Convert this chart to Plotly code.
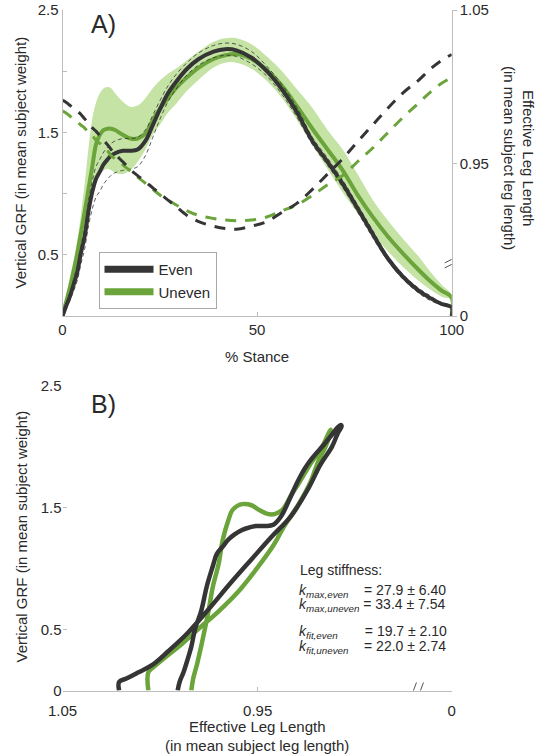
import plotly.graph_objects as go

# ---------------- data ----------------
stance = [0, 0.8, 1.8, 2.8, 3.8, 4.7, 5.7, 6.7, 7.7, 8.6, 9.6, 10.6, 11.6, 12.5, 13.5,
          15.5, 17.4, 19.3, 21.3, 23.2, 25.2, 27.1, 29.1, 32.0, 35.0, 38.8, 41.8, 44.7,
          48.6, 52.5, 56.4, 60.3, 64.2, 68.1, 72.0, 75.8, 79.7, 83.6, 87.5, 91.4, 94.3,
          97.3, 100, 100]

grf_even = [0, 0.07, 0.15, 0.25, 0.36, 0.51, 0.65, 0.86, 1.02, 1.12, 1.18, 1.24, 1.28, 1.31,
            1.33, 1.35, 1.35, 1.36, 1.43, 1.56, 1.70, 1.82, 1.91, 2.02, 2.10, 2.16, 2.18, 2.17,
            2.11, 2.00, 1.85, 1.66, 1.43, 1.26, 1.08, 0.88, 0.67, 0.47, 0.32, 0.21, 0.15,
            0.10, 0.07, 0]

grf_uneven = [0, 0.10, 0.22, 0.36, 0.51, 0.67, 0.85, 1.04, 1.23, 1.40, 1.48, 1.52, 1.53, 1.53,
              1.52, 1.48, 1.45, 1.45, 1.49, 1.60, 1.70, 1.78, 1.86, 1.95, 2.03, 2.10, 2.13, 2.14,
              2.10, 2.01, 1.88, 1.71, 1.53, 1.36, 1.19, 0.99, 0.81, 0.65, 0.51, 0.38, 0.29,
              0.21, 0.15, 0]

grf_uneven_hi = [0, 0.15, 0.30, 0.45, 0.62, 0.82, 1.08, 1.38, 1.62, 1.74, 1.82, 1.86, 1.87, 1.86,
                 1.82, 1.75, 1.71, 1.72, 1.78, 1.86, 1.93, 1.98, 2.02, 2.09, 2.16, 2.24, 2.27, 2.27,
                 2.22, 2.12, 2.00, 1.85, 1.70, 1.52, 1.36, 1.16, 0.95, 0.78, 0.63, 0.49, 0.37,
                 0.26, 0.17, 0]

grf_uneven_lo = [0, 0.05, 0.12, 0.22, 0.35, 0.50, 0.66, 0.82, 0.97, 1.08, 1.15, 1.19, 1.20, 1.19,
                 1.17, 1.16, 1.19, 1.26, 1.36, 1.48, 1.57, 1.66, 1.73, 1.84, 1.93, 2.03, 2.07, 2.07,
                 2.02, 1.92, 1.78, 1.60, 1.40, 1.20, 1.01, 0.84, 0.67, 0.53, 0.40, 0.29, 0.22,
                 0.16, 0.13, 0]

even_sd_up = [0, 0.02, 0.03, 0.04, 0.05, 0.06, 0.07, 0.08, 0.09, 0.10, 0.10, 0.10, 0.10, 0.10,
              0.10, 0.10, 0.10, 0.10, 0.09, 0.08, 0.07, 0.06, 0.06, 0.05, 0.05, 0.05, 0.05, 0.05,
              0.05, 0.04, 0.04, 0.04, 0.03, 0.03, 0.03, 0.03, 0.03, 0.02, 0.02, 0.02, 0.02,
              0.01, 0.01, 0]

even_sd_dn = [0, 0.02, 0.03, 0.05, 0.07, 0.09, 0.10, 0.12, 0.14, 0.15, 0.16, 0.16, 0.16, 0.16,
              0.16, 0.16, 0.15, 0.14, 0.12, 0.10, 0.08, 0.07, 0.06, 0.05, 0.05, 0.05, 0.05, 0.05,
              0.05, 0.04, 0.04, 0.04, 0.03, 0.03, 0.03, 0.03, 0.03, 0.02, 0.02, 0.02, 0.02,
              0.01, 0.01, 0]

leg_even = [0.991, 0.990, 0.988, 0.986, 0.984, 0.982, 0.979, 0.976, 0.973, 0.971, 0.968, 0.965,
            0.962, 0.959, 0.956, 0.951, 0.946, 0.942, 0.938, 0.934, 0.930, 0.926, 0.922, 0.916,
            0.912, 0.909, 0.9075, 0.907, 0.909, 0.912, 0.918, 0.924, 0.933, 0.943, 0.953, 0.964,
            0.975, 0.986, 0.996, 1.004, 1.011, 1.017, 1.021, 1.021]

leg_uneven = [0.984, 0.983, 0.981, 0.979, 0.977, 0.975, 0.973, 0.970, 0.968, 0.965, 0.963, 0.960,
              0.958, 0.955, 0.953, 0.949, 0.945, 0.941, 0.937, 0.933, 0.929, 0.926, 0.923, 0.919,
              0.916, 0.914, 0.913, 0.9125, 0.913, 0.915, 0.919, 0.923, 0.929, 0.936, 0.942, 0.951,
              0.960, 0.970, 0.980, 0.989, 0.996, 1.002, 1.006, 1.006]

series_names = ["Even", "Uneven"]
stance_ticks = [0, 50, 100]
grf_ticks_a = [0.5, 1.5, 2.5]
grf_minor_ticks = [1, 2]
grf_ticks_b = [0, 0.5, 1.5, 2.5]
leg_axis_bottom = 0.8504          # broken axis: shown as "0"
leg_axis_bottom_b = 0.8506
leg_ticks = [leg_axis_bottom, 0.95, 1.05]
leg_ticks_b = [1.05, 0.95, leg_axis_bottom_b]
leg_ticktext = ["0", "0.95", "1.05"]
leg_ticktext_b = ["1.05", "0.95", "0"]
leg_break = 0.887
leg_break_b = 0.8684

stiff_rows = [
    "<i>k</i><sub><i>max,even</i></sub>&nbsp;&nbsp;&nbsp;&nbsp;= 27.9 ± 6.40",
    "<i>k</i><sub><i>max,uneven</i></sub>&nbsp;= 33.4 ± 7.54",
    "<i>k</i><sub><i>fit,even</i></sub>&nbsp;&nbsp;&nbsp;&nbsp;&nbsp;&nbsp;&nbsp;= 19.7 ± 2.10",
    "<i>k</i><sub><i>fit,uneven</i></sub>&nbsp;&nbsp;&nbsp;&nbsp;= 22.0 ± 2.74",
]

# ---------------- style ----------------
W, H = 536, 756
def px_x(p):
    return p / W
def px_y(p):
    return 1 - p / H

DARK = "#353535"
GREEN = "#6ba43a"
BAND = "#c4e3a4"
AXIS = "#bdbdbd"
TEXT = "#2a2a2a"
FONT = "Liberation Sans, Arial, sans-serif"

even_hi = [m + d for m, d in zip(grf_even, even_sd_up)]
even_lo = [m - d for m, d in zip(grf_even, even_sd_dn)]

fig = go.Figure()

# Panel A: SD band (uneven)
fig.add_trace(go.Scatter(x=stance, y=grf_uneven_lo, mode="lines", line=dict(width=0, shape="spline"),
                         showlegend=False, hoverinfo="skip", xaxis="x", yaxis="y"))
fig.add_trace(go.Scatter(x=stance, y=grf_uneven_hi, mode="lines", line=dict(width=0, shape="spline"),
                         fill="tonexty", fillcolor=BAND, showlegend=False, hoverinfo="skip",
                         xaxis="x", yaxis="y"))
# mean GRF curves
fig.add_trace(go.Scatter(x=stance, y=grf_uneven, mode="lines",
                         line=dict(color=GREEN, width=4, shape="spline"),
                         showlegend=False, xaxis="x", yaxis="y"))
fig.add_trace(go.Scatter(x=stance, y=grf_even, mode="lines",
                         line=dict(color=DARK, width=4, shape="spline"),
                         showlegend=False, xaxis="x", yaxis="y"))
# even SD thin dashed
for arr in (even_hi, even_lo):
    fig.add_trace(go.Scatter(x=stance, y=arr, mode="lines",
                             line=dict(color=DARK, width=0.8, dash="4px,3px", shape="spline"),
                             showlegend=False, xaxis="x", yaxis="y"))
# leg length dashed (right axis)
fig.add_trace(go.Scatter(x=stance, y=leg_uneven, mode="lines",
                         line=dict(color=GREEN, width=3, dash="11px,9px", shape="spline"),
                         showlegend=False, xaxis="x", yaxis="y2"))
fig.add_trace(go.Scatter(x=stance, y=leg_even, mode="lines",
                         line=dict(color=DARK, width=3, dash="11px,9px", shape="spline"),
                         showlegend=False, xaxis="x", yaxis="y2"))

# legend entries
for name, col in zip(series_names, [DARK, GREEN]):
    fig.add_trace(go.Scatter(x=[None], y=[None], mode="lines", name=name,
                             line=dict(color=col, width=7), xaxis="x", yaxis="y"))

# Panel B: GRF vs leg length
fig.add_trace(go.Scatter(x=leg_uneven, y=grf_uneven, mode="lines",
                         line=dict(color=GREEN, width=4.5, shape="spline"),
                         showlegend=False, xaxis="x2", yaxis="y3"))
fig.add_trace(go.Scatter(x=leg_even, y=grf_even, mode="lines",
                         line=dict(color=DARK, width=4.5, shape="spline"),
                         showlegend=False, xaxis="x2", yaxis="y3"))

tickfont = dict(family=FONT, size=15, color=TEXT)
common = dict(showgrid=False, zeroline=False, tickfont=tickfont, tickcolor=AXIS,
              linecolor=AXIS, linewidth=1, ticklen=4, automargin=False)

fig.update_layout(
    width=W, height=H,
    margin=dict(l=0, r=0, t=0, b=0, pad=0, autoexpand=False),
    paper_bgcolor="white", plot_bgcolor="white",
    font=dict(family=FONT, size=15, color=TEXT),
    xaxis=dict(domain=[px_x(62.5), px_x(451.7)], anchor="y", range=[0, 100],
               tickvals=stance_ticks, ticks="inside", showline=True, **common),
    yaxis=dict(domain=[px_y(316), px_y(10)], anchor="x", range=[0, 2.5],
               tickvals=grf_ticks_a, ticks="inside", showline=True,
               minor=dict(tickvals=grf_minor_ticks, ticks="inside", ticklen=4, tickcolor=AXIS),
               **common),
    yaxis2=dict(overlaying="y", side="right", anchor="x", range=[leg_axis_bottom, 1.05],
                tickvals=leg_ticks, ticktext=leg_ticktext, ticks="outside",
                showline=True, **common),
    xaxis2=dict(domain=[px_x(62.5), px_x(451.7)], anchor="y3",
                range=[1.05, leg_axis_bottom_b], tickvals=leg_ticks_b, ticktext=leg_ticktext_b,
                ticks="inside", showline=True, ticklabelstandoff=6, **common),
    yaxis3=dict(domain=[px_y(690.5), px_y(386)], anchor="x2", range=[0, 2.5],
                tickvals=grf_ticks_b, ticks="inside", showline=False, **common),
    legend=dict(x=px_x(98.5), y=px_y(252), xanchor="left", yanchor="top",
                bgcolor="white", bordercolor="#a8a8a8", borderwidth=1, traceorder="normal",
                font=dict(family=FONT, size=15, color=TEXT), itemwidth=49,
                tracegroupgap=0),
    showlegend=True,
)

# axis-break marks
shapes = []
for dy in (0, -5):
    shapes.append(dict(type="line", xref="x", yref="y2", xsizemode="pixel", ysizemode="pixel",
                       xanchor=100, yanchor=leg_break, x0=-7, x1=7, y0=-3 + dy, y1=4 + dy,
                       line=dict(color="#555555", width=1)))
shapes.append(dict(type="rect", xref="x2", yref="y3", xsizemode="pixel", ysizemode="pixel",
                   xanchor=leg_break_b, yanchor=0, x0=-3, x1=3, y0=-1.5, y1=1.5,
                   fillcolor="white", line=dict(width=0)))
for dx in (-3.5, 3.5):
    shapes.append(dict(type="line", xref="x2", yref="y3", xsizemode="pixel", ysizemode="pixel",
                       xanchor=leg_break_b, yanchor=0, x0=dx - 3, x1=dx + 3, y0=-8, y1=8,
                       line=dict(color="#555555", width=1)))
fig.update_layout(shapes=shapes)

ann = []
def add_text(text, x, y, size=15, angle=0, xanchor="center", yanchor="middle"):
    ann.append(dict(text=text, x=px_x(x), y=px_y(y), xref="paper", yref="paper",
                    showarrow=False, textangle=angle, xanchor=xanchor, yanchor=yanchor,
                    font=dict(family=FONT, size=size, color=TEXT)))

add_text("A)", 103, 24, size=25)
add_text("B)", 103, 404, size=25)
add_text("Vertical GRF (in mean subject weight)", 20.5, 163, angle=-90)
add_text("Vertical GRF (in mean subject weight)", 20.5, 537, angle=-90)
add_text("Effective Leg Length<br>(in mean subject leg length)", 518, 158, angle=90)
add_text("% Stance", 257, 356)
add_text("Effective Leg Length", 257, 726)
add_text("(in mean subject leg length)", 257, 745)
add_text("Leg stiffness:", 298, 570, size=14, xanchor="left")
rows_y = [591, 605, 632, 647]
for row, yy in zip(stiff_rows, rows_y):
    add_text(row, 297, yy, size=14, xanchor="left")
fig.update_layout(annotations=ann)

fig.write_html("out.html", config={"displayModeBar": False},
               post_script="document.body.style.margin='0';document.body.style.overflow='hidden';")
